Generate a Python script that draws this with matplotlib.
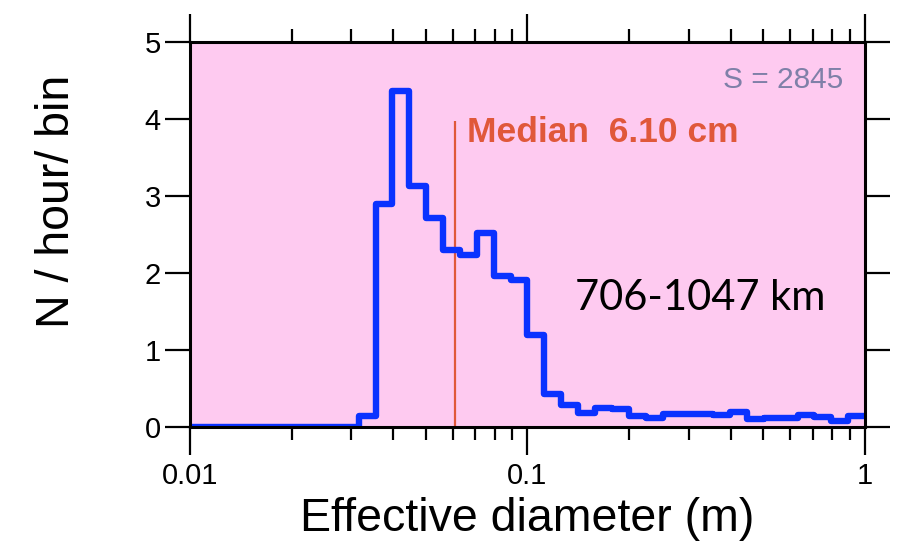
import numpy as np
import matplotlib
matplotlib.use("Agg")
import matplotlib.pyplot as plt

# histogram: 20 log bins per decade, from 0.01 m to 1 m
bin_edges = 10 ** np.linspace(-2, 0, 41)
counts = [
    0, 0, 0, 0, 0, 0, 0, 0, 0, 0,
    0.14, 2.90, 4.36, 3.13, 2.72, 2.30, 2.24, 2.52, 1.96, 1.91,
    1.20, 0.43, 0.29, 0.18, 0.25, 0.23, 0.14, 0.12, 0.17, 0.17,
    0.17, 0.16, 0.20, 0.10, 0.12, 0.12, 0.16, 0.13, 0.08, 0.14,
]
median_m = 0.061
median_label = "Median  6.10 cm"
sample_label = "S = 2845"
range_label = "706-1047 km"

x_ticks = [0.01, 0.1, 1]
x_ticklabels = ["0.01", "0.1", "1"]
y_ticks = [0, 1, 2, 3, 4, 5]

plt.rcParams["font.family"] = ["Liberation Sans", "DejaVu Sans"]

fig = plt.figure(figsize=(9.02, 5.54), dpi=100)
ax = fig.add_axes([0.2106, 0.229, 0.7484, 0.695])
ax.set_facecolor("#FECAF0")

ax.stairs(counts, bin_edges, baseline=None, color="#0A32FF", linewidth=4.6,
          joinstyle="round", capstyle="round", zorder=3)
ax.vlines(median_m, 0, 3.97, color="#E0583A", linewidth=1.6, zorder=2)

ax.text(0.0662, 3.70, median_label, color="#E0583A", fontsize=25.5,
        fontweight="bold", ha="left", va="baseline")
ax.text(0.861, 4.40, sample_label, color="#7F80A8", fontsize=21.5,
        ha="right", va="baseline")
ax.text(0.1384, 1.52, range_label, color="black", fontsize=30,
        family=["Lato", "DejaVu Sans"], ha="left", va="baseline")

ax.set_xscale("log")
ax.set_xlim(0.01, 1)
ax.set_ylim(0, 5)
ax.set_xticks(x_ticks)
ax.set_xticklabels(x_ticklabels)
ax.set_yticks(y_ticks)

ax.tick_params(axis="both", which="major", direction="out", labelsize=21,
               width=1.6, color="black")
ax.tick_params(axis="x", which="major", length=20, pad=5,
               top=True, bottom=True)
ax.tick_params(axis="x", which="minor", direction="out", length=9.5,
               width=1.6, top=True, bottom=True)
ax.tick_params(axis="y", which="major", length=18, pad=3,
               left=True, right=True)

for sp in ax.spines.values():
    sp.set_linewidth(2.2)
    sp.set_zorder(4)

ax.set_xlabel("Effective diameter (m)", fontsize=33.5, labelpad=5)
ax.set_ylabel("N / hour/ bin", fontsize=33.5)
ax.yaxis.set_label_coords(-0.165, 0.587)

fig.savefig("out.png", dpi=100)
